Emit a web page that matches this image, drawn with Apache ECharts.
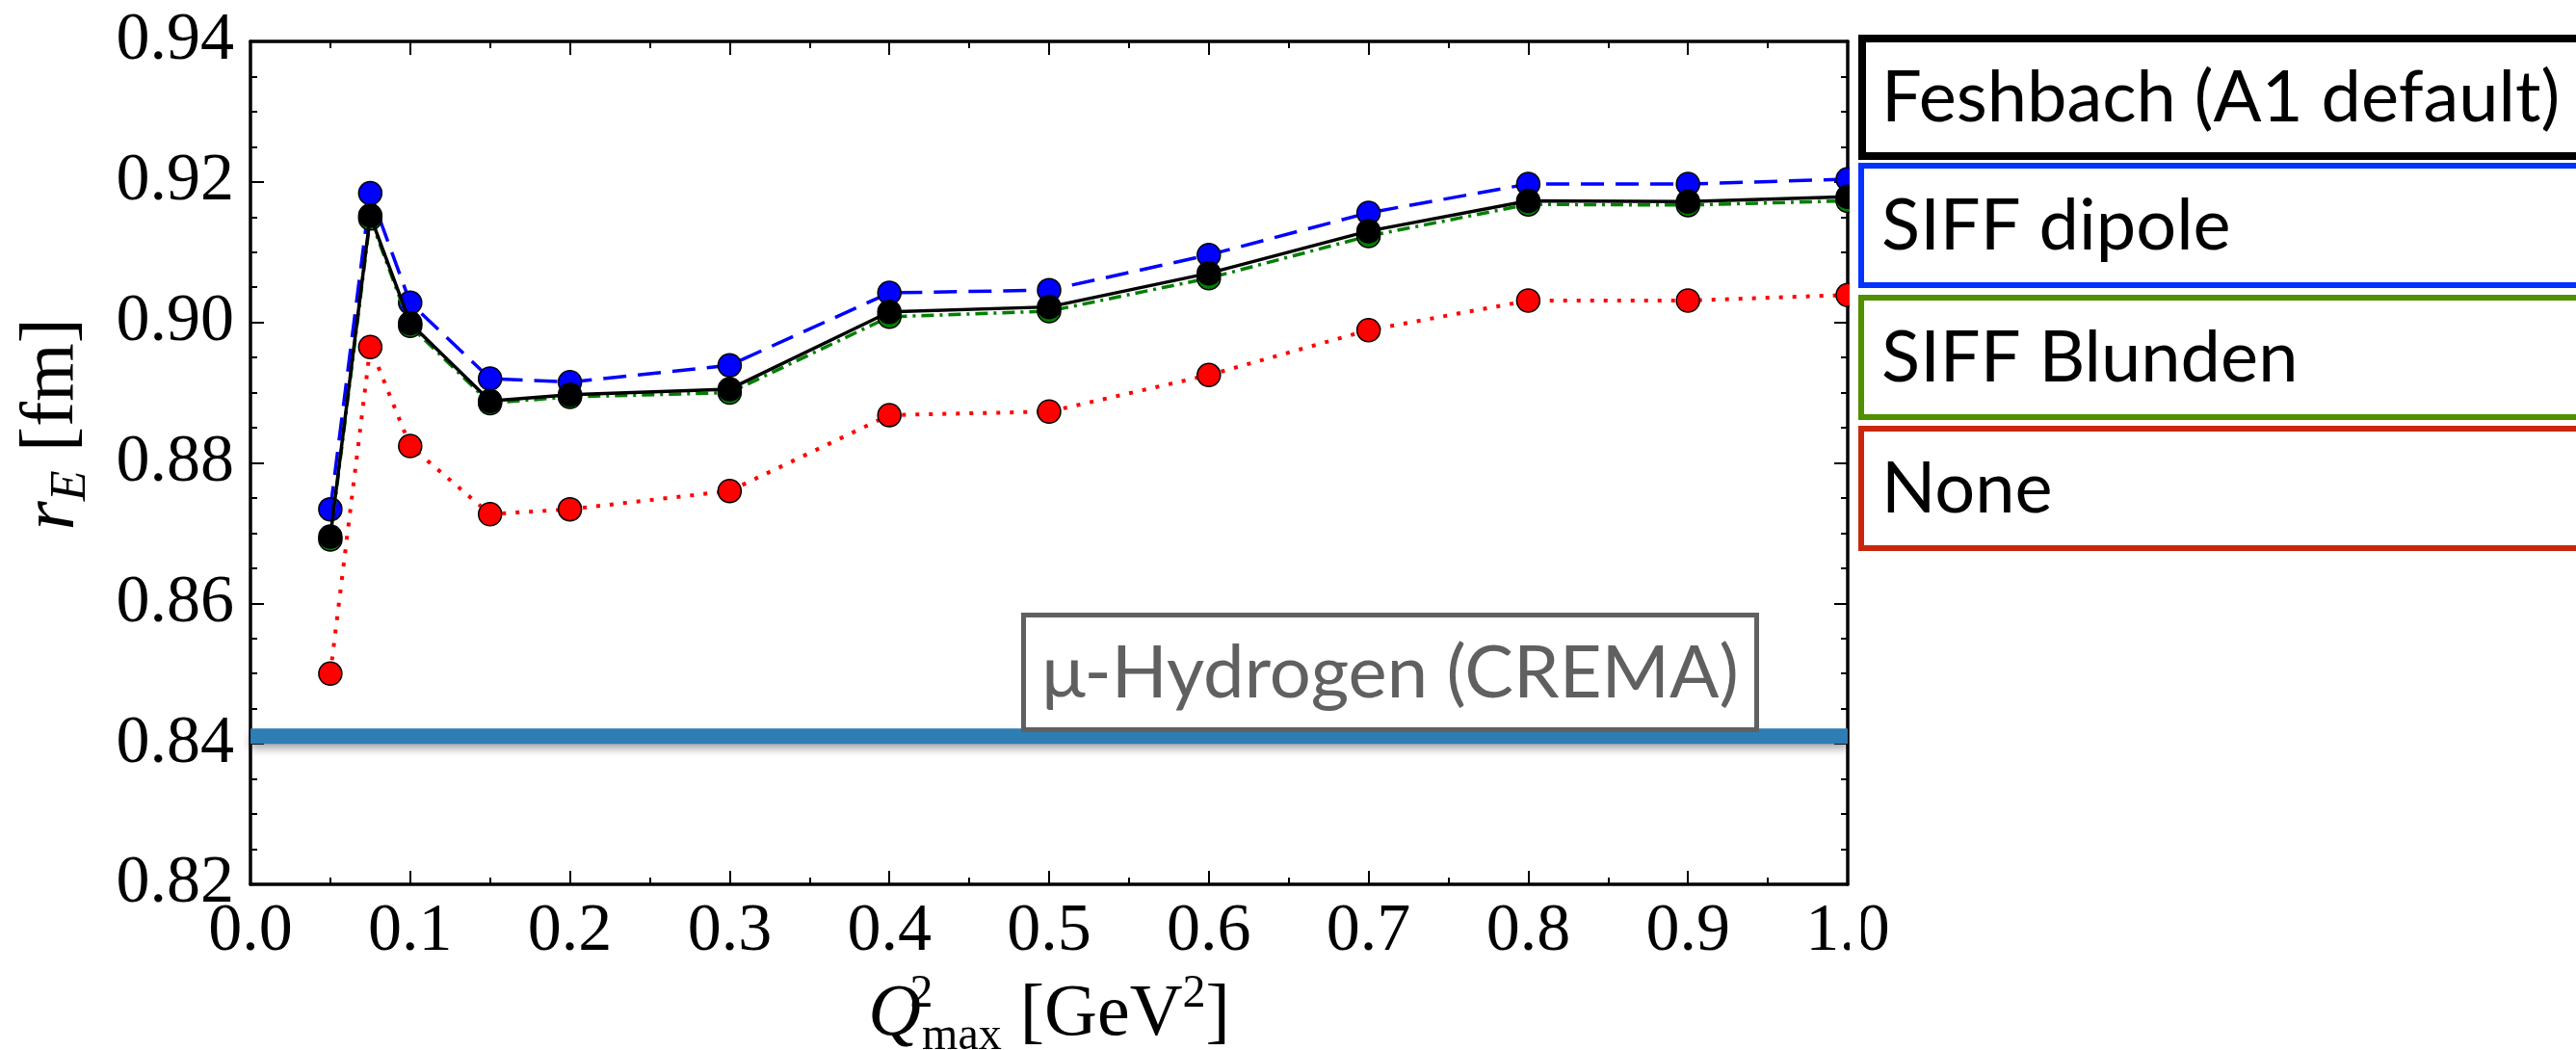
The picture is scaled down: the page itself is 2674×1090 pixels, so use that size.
<!DOCTYPE html>
<html>
<head>
<meta charset="utf-8">
<title>r_E vs Q2max</title>
<script src="https://cdn.jsdelivr.net/npm/echarts@6/dist/echarts.min.js"></script>
<style>
    html, body { margin: 0; padding: 0; background: #fff; }
    #chartDiv { width: 2674px; height: 1090px; }
</style>
</head>
<body>
<div id="chartDiv"></div>
<script>
// Q^2_max cut (GeV^2)
var q2max = [0.05, 0.075, 0.1, 0.15, 0.2, 0.3, 0.4, 0.5, 0.6, 0.7, 0.8, 0.9, 1.0];
// r_E (fm) per radiative correction
var rFeshbach    = [0.8695, 0.9152, 0.8999, 0.8888, 0.8897, 0.8905, 0.9015, 0.9022, 0.9070, 0.9130, 0.9173, 0.9172, 0.9179];
var rSiffDipole  = [0.8734, 0.9184, 0.9028, 0.8920, 0.8915, 0.8939, 0.9042, 0.9046, 0.9096, 0.9156, 0.9197, 0.9197, 0.9204];
var rSiffBlunden = [0.8691, 0.9148, 0.8995, 0.8885, 0.8894, 0.8900, 0.9008, 0.9016, 0.9063, 0.9123, 0.9168, 0.9167, 0.9173];
var rNone        = [0.8500, 0.8965, 0.8824, 0.8727, 0.8734, 0.8760, 0.8868, 0.8873, 0.8925, 0.8989, 0.9031, 0.9031, 0.9039];
// muonic hydrogen (CREMA) band
var muHx = [0, 1];
var muHr = 0.8411;
var legendNames = ['Feshbach (A1 default)', 'SIFF dipole', 'SIFF Blunden', 'None'];
var legendColors = ['#000000', '#0433ff', '#4f8f00', '#c9270c'];
var muHLabel = 'μ-Hydrogen (CREMA)';

var chart = echarts.init(document.getElementById('chartDiv'));

function pairs(ys) {
    return q2max.map(function (x, i) { return [x, ys[i]]; });
}

var serifFont = 'Liberation Serif';
var sansFont = 'Lato';

var tickStyle = { color: '#000', width: 2 };

function frameAxis(pos, isX, showLabel) {
    var ax = {
        type: 'value',
        position: pos,
        min: isX ? 0 : 0.82,
        max: isX ? 1 : 0.94,
        interval: isX ? 0.1 : 0.02,
        splitLine: { show: false },
        axisLine: { show: true, onZero: false, lineStyle: { color: '#000', width: 3.5 } },
        axisTick: { show: true, inside: true, length: 14, lineStyle: tickStyle },
        minorTick: { show: true, splitNumber: isX ? 2 : 4, length: 7, lineStyle: tickStyle },
        axisLabel: {
            show: showLabel,
            fontFamily: serifFont,
            fontSize: 70,
            color: '#000',
            margin: isX ? 15 : 17,
            formatter: function (v) { return v.toFixed(isX ? 1 : 2); }
        }
    };
    return ax;
}

var xMain = frameAxis('bottom', true, true);
xMain.name = '{q|Q}{sup0|2}{sub|max}{t| [GeV}{sup|2}{t|]}';
xMain.nameLocation = 'middle';
xMain.nameGap = 76;
xMain.nameTextStyle = {
    rich: {
        q: { fontFamily: serifFont, fontStyle: 'italic', fontSize: 76, color: '#000', lineHeight: 92, verticalAlign: 'middle' },
        sup0: { fontFamily: serifFont, fontSize: 48, color: '#000', width: 1, verticalAlign: 'top', lineHeight: 48 },
        sup: { fontFamily: serifFont, fontSize: 48, color: '#000', verticalAlign: 'top', lineHeight: 48 },
        sub: { fontFamily: serifFont, fontSize: 48, color: '#000', verticalAlign: 'bottom', lineHeight: 48 },
        t: { fontFamily: serifFont, fontSize: 76, color: '#000', lineHeight: 92, verticalAlign: 'middle' }
    }
};

var yMain = frameAxis('left', false, true);
yMain.name = '{r|r}{sub|E}{t| [fm]}';
yMain.nameLocation = 'middle';
yMain.nameGap = 160;
yMain.nameRotate = 90;
yMain.nameTextStyle = {
    padding: [0, 0, 0, 80],
    rich: {
        r: { fontFamily: serifFont, fontStyle: 'italic', fontSize: 78, color: '#000', lineHeight: 90, verticalAlign: 'middle' },
        sub: { fontFamily: serifFont, fontStyle: 'italic', fontSize: 52, color: '#000', verticalAlign: 'bottom', lineHeight: 52 },
        t: { fontFamily: serifFont, fontSize: 78, color: '#000', lineHeight: 90, verticalAlign: 'middle' }
    }
};

function dataSeries(name, ys, color, dash, width, z) {
    return {
        name: name,
        type: 'line',
        data: pairs(ys),
        symbol: 'circle',
        symbolSize: 24,
        z: z,
        itemStyle: { color: color, borderColor: '#000', borderWidth: 1.5 },
        lineStyle: { color: color, width: width, type: dash },
        emphasis: { disabled: true }
    };
}

// legend boxes (drawn by hand, like the original)
var graphics = [];
var boxTops = [36, 169, 306, 442];
legendNames.forEach(function (nm, i) {
    var bw = i === 0 ? 8 : 6;
    graphics.push({
        type: 'rect',
        z: 100,
        shape: { x: 1929 + bw / 2, y: boxTops[i] + bw / 2, width: 800, height: 130 - bw },
        style: { fill: '#fff', stroke: legendColors[i], lineWidth: bw }
    });
    graphics.push({
        type: 'text',
        z: 101,
        style: {
            text: nm, x: 1953, y: boxTops[i] + 66,
            font: '74px ' + sansFont, fill: '#000',
            align: 'left', verticalAlign: 'middle'
        }
    });
});
// clip half of the last markers at right frame
graphics.push({
    type: 'rect', z: 90,
    shape: { x: 1920, y: 0, width: 12, height: 1090 },
    style: { fill: '#fff' }
});
// mu-H annotation box
graphics.push({
    type: 'rect', z: 100,
    shape: { x: 1062.5, y: 638.5, width: 761, height: 119 },
    style: { fill: '#fff', stroke: '#606060', lineWidth: 5 }
});
graphics.push({
    type: 'text', z: 101,
    style: {
        text: muHLabel, x: 1443, y: 699,
        font: '76px ' + sansFont, fill: '#606060',
        align: 'center', verticalAlign: 'middle'
    }
});

var option = {
    animation: false,
    backgroundColor: '#fff',
    grid: { left: 260, right: 756, top: 43, bottom: 172, outerBoundsMode: 'none' },
    xAxis: [xMain, frameAxis('top', true, false)],
    yAxis: [yMain, frameAxis('right', false, false)],
    series: [
        {
            name: muHLabel,
            type: 'line',
            data: muHx.map(function (x) { return [x, muHr]; }),
            symbol: 'none',
            z: 1,
            lineStyle: {
                color: '#2e7db4', width: 16,
                shadowColor: 'rgba(0,0,0,0.35)', shadowBlur: 8, shadowOffsetY: 5
            },
            emphasis: { disabled: true }
        },
        dataSeries(legendNames[1], rSiffDipole, '#0000ff', [24, 12], 3.5, 3),
        dataSeries(legendNames[3], rNone, '#ff0000', [4, 10], 4, 3),
        dataSeries(legendNames[2], rSiffBlunden, '#008000', [13, 6, 3, 6], 3.5, 4),
        dataSeries(legendNames[0], rFeshbach, '#000000', 'solid', 3.5, 5)
    ],
    graphic: graphics
};

chart.setOption(option);
</script>
</body>
</html>
